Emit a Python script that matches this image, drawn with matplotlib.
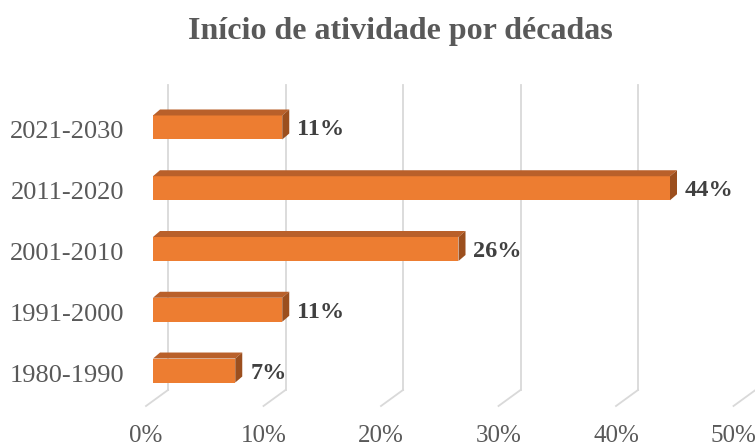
import matplotlib
matplotlib.use("Agg")
import matplotlib.pyplot as plt
from matplotlib.patches import Polygon

plt.rcParams['font.family'] = ['Liberation Serif', 'DejaVu Serif']

# data
decades = ['1980-1990', '1991-2000', '2001-2010', '2011-2020', '2021-2030']
shares = [7, 11, 26, 44, 11]
xticks = [0, 10, 20, 30, 40, 50]
xlabels = ['0%', '10%', '20%', '30%', '40%', '50%']
title = 'Início de atividade por décadas'

FRONT = '#ED7D31'
TOP = '#B9602A'
SIDE = '#9C4F1E'
GRID = '#D9D9D9'
TXT = '#595959'
LBL = '#404040'

W, H = 755, 448
fig = plt.figure(figsize=(W / 100, H / 100), dpi=100)

# axes placement in image pixels (top origin)
ax_left, ax_right = 153, 153 + 50 * 11.75
ax_top, ax_bot = 97.1, 400.9
ax = fig.add_axes([ax_left / W, 1 - ax_bot / H,
                   (ax_right - ax_left) / W, (ax_bot - ax_top) / H])
ax.set_xlim(0, 50)
ax.set_ylim(-0.5, 4.5)
ax.axis('off')

# one pixel in data units
px = 50 / (ax_right - ax_left)
py = 5 / (ax_bot - ax_top)

# back wall gridlines + floor edges
floor = -0.5 + (ax_bot - 390) * py
wall_top = 4.5 + (ax_top - 85) * py
for v in xticks:
    gx = v + 15 * px
    ax.plot([gx, gx], [floor, wall_top], color=GRID, lw=1.3, zorder=0, clip_on=False)
    ax.plot([gx, v - 7 * px], [floor, floor - 16 * py], color=GRID, lw=1.3,
            zorder=0, clip_on=False)

# 3d bars
bar_h = 24 * py
dx, dy = 7 * px, 6 * py
ypos = list(range(len(decades)))
ax.barh(ypos, shares, height=bar_h, color=FRONT, zorder=3)
for i, v in zip(ypos, shares):
    yt = i + bar_h / 2
    yb = i - bar_h / 2
    ax.add_patch(Polygon([(0, yt), (v, yt), (v + dx, yt + dy), (dx, yt + dy)],
                         closed=True, facecolor=TOP, edgecolor='none', zorder=3))
    ax.add_patch(Polygon([(v, yb), (v, yt), (v + dx, yt + dy), (v + dx, yb + dy)],
                         closed=True, facecolor=SIDE, edgecolor='none', zorder=3))
    ax.text(v + 15 * px, i - 2.5 * py, f'{v}%', ha='left', va='center',
            fontsize=17.5, fontweight='bold', color=LBL)

# category labels
for i, name in zip(ypos, decades):
    ax.text(-29 * px, i - 5 * py, name, ha='right', va='center',
            fontsize=19, color=TXT, clip_on=False)

# value axis labels
for v, lab in zip(xticks, xlabels):
    ax.text(v - 7 * px, -0.5 - (442 - ax_bot) * py, lab, ha='center',
            va='baseline', fontsize=18, color=TXT, clip_on=False)

fig.text(400 / W, 1 - 39 / H, title, ha='center', va='baseline',
         fontsize=23, fontweight='bold', color=TXT)

fig.savefig('out.png', dpi=100)
